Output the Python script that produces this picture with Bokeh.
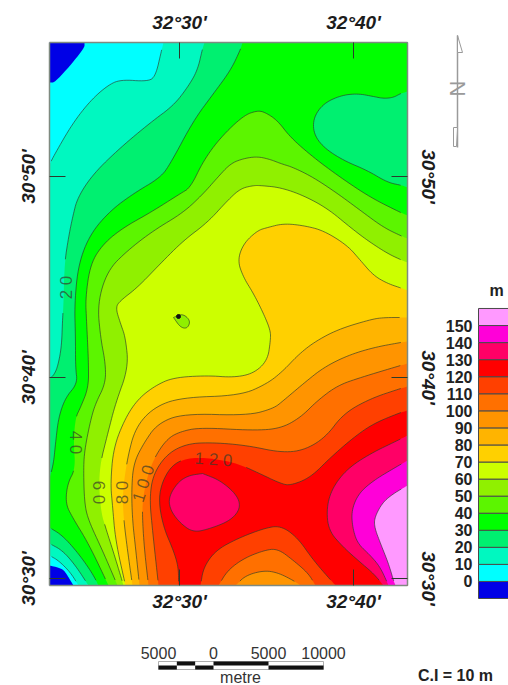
from bokeh.plotting import figure
from bokeh.models import LinearAxis, FixedTicker
from bokeh.core.properties import value
from bokeh.embed import file_html
from bokeh.resources import INLINE
import math

# ---- legend ----
LEVELS = [0, 10, 20, 30, 40, 50, 60, 70, 80, 90, 100, 110, 120, 130, 140, 150]
COLORS = ["#0000E6", "#00FFFF", "#00F8C0", "#00F070", "#00FF00", "#5CF500", "#90F000", "#CCFF00",
          "#FFD000", "#FFB400", "#FF9400", "#FF7000", "#FF4000", "#FF0000", "#FF0066", "#FF00D8", "#FF99FF"]
LON_TICKS = {179: "32°30'", 353: "32°40'"}
LAT_TICKS = {176: "30°50'", 377: "30°40'", 578: "30°30'"}
SCALE_M = [-5000, -3333, -1667, 0, 5000, 10000]
SCALE_LABELS = [(-5000, "5000"), (0, "0"), (5000, "5000"), (10000, "10000")]

L0_A = [(84, 42), (84, 48), (55, 82), (49, 82)]
L0_B = [(49, 565), (62, 568), (67, 575), (73, 585)]
L10_A = [(163, 42), (161, 50), (155, 76), (147, 81), (120, 79), (107, 85), (90, 100), (72, 123), (54, 154), (49, 164)]
L10_B = [(49, 555), (58, 560), (70, 572), (78, 585)]
L20_A = [(204, 42), (202, 48), (197, 70), (187, 87), (173, 105), (150, 122), (120, 147), (93, 173), (77, 197), (72, 217),
         (68, 237), (64, 263), (63, 303), (62, 320), (61, 347), (57, 367), (53, 375), (49, 378)]
L20_B = [(49, 543), (62, 550), (75, 565), (88, 585)]
L30_A = [(242, 42), (240, 49), (230, 70), (213, 93), (193, 120), (170, 163), (160, 177), (133, 193), (110, 210), (90, 233),
         (78, 263), (74, 303), (75, 337), (75, 367), (77, 383), (65, 397), (58, 417), (55, 443), (53, 463), (49, 478)]
L30_B = [(49, 527), (62, 535), (78, 553), (92, 573), (98, 585)]
L30_C = [(407, 187), (402, 185), (387, 182), (367, 170), (343, 160), (323, 147), (313, 133), (313, 117), (323, 103),
         (340, 95), (357, 93), (373, 96), (383, 98), (393, 97), (400, 93), (407, 91)]
L40_A = [(407, 215), (400, 212), (370, 197), (340, 177), (313, 157), (290, 137), (277, 120), (265, 112), (257, 110),
         (243, 115), (220, 137), (203, 160), (190, 187), (180, 193), (150, 212), (123, 227), (103, 243), (90, 263), (85, 297),
         (86, 320), (87, 340), (88, 363), (88, 387), (80, 407), (75, 417), (73, 442), (75, 468), (67, 483), (65, 503),
         (72, 517), (88, 543), (108, 585)]
L50_A = [(407, 238), (402, 236), (383, 227), (360, 210), (337, 193), (313, 177), (293, 167), (280, 163), (270, 159),
         (257, 156), (243, 158), (230, 163), (217, 177), (203, 193), (183, 212), (153, 230), (127, 250), (107, 270), (97, 303),
         (100, 337), (105, 363), (105, 383), (95, 403), (90, 420), (84, 450), (83, 470), (84, 503), (88, 520), (102, 550),
         (117, 585)]
L60_A = [(407, 262), (402, 260), (387, 253), (367, 240), (350, 227), (327, 208), (303, 195), (280, 187), (260, 185),
         (253, 185), (240, 188), (227, 200), (207, 222), (183, 240), (160, 263), (137, 287), (120, 300), (115, 307), (120, 323),
         (125, 337), (128, 367), (115, 403), (108, 430), (98, 470), (100, 510), (106, 530), (114, 555), (123, 585)]
L70_A = [(407, 290), (402, 288), (387, 283), (373, 275), (360, 260), (347, 245), (323, 230), (303, 225), (283, 223),
         (267, 227), (257, 230), (243, 243), (237, 260), (243, 277), (253, 293), (263, 313), (270, 330), (270, 340), (267, 360),
         (253, 373), (233, 377), (207, 375), (173, 377), (155, 385), (138, 398), (125, 417), (113, 447), (110, 483), (112, 505),
         (115, 540), (125, 585)]
L80_A = [(407, 317), (383, 317), (370, 319), (337, 329), (313, 342), (297, 355), (283, 370), (267, 383), (240, 395),
         (180, 397), (153, 407), (135, 427), (127, 457), (122, 492), (123, 517), (127, 550), (132, 585)]
L90_A = [(407, 341), (400, 342), (373, 347), (347, 355), (323, 367), (303, 383), (283, 400), (273, 408), (247, 415),
         (183, 413), (157, 423), (143, 443), (133, 463), (131, 490), (132, 520), (135, 547), (139, 585)]
L100_A = [(407, 363), (400, 365), (360, 377), (337, 385), (317, 400), (300, 417), (280, 428), (253, 430), (200, 427),
          (180, 431), (167, 438), (155, 455), (147, 475), (142, 500), (142, 520), (144, 550), (148, 585)]
L100_B = [(235, 585), (245, 575), (263, 570), (277, 572), (293, 580), (300, 585)]
L110_A = [(407, 386), (400, 388), (370, 398), (343, 413), (325, 437), (303, 450), (280, 452), (247, 445), (213, 442),
          (187, 443), (167, 453), (153, 473), (149, 497), (152, 530), (158, 585)]
L110_B = [(218, 585), (227, 570), (243, 558), (263, 550), (277, 548), (293, 560), (308, 573), (315, 585)]
L120_A = [(407, 410), (400, 412), (373, 423), (353, 437), (330, 457), (310, 477), (290, 485), (280, 483), (257, 472),
          (237, 463), (213, 458), (190, 457), (173, 463), (162, 480), (158, 500), (163, 527), (173, 550), (178, 567), (178, 585)]
L120_B = [(200, 585), (203, 567), (215, 550), (237, 538), (263, 528), (280, 525), (297, 537), (313, 560), (335, 585)]
L130_A = [(407, 435), (397, 440), (370, 453), (347, 468), (332, 487), (326, 507), (328, 530), (343, 547), (360, 562),
          (373, 573), (383, 585)]
L130_BLOB = [(202, 473), (220, 480), (237, 495), (240, 508), (230, 520), (210, 528), (193, 532), (180, 523), (170, 510),
             (168, 497), (177, 482), (188, 475), (202, 473)]
L140_A = [(407, 460), (393, 468), (373, 480), (358, 493), (351, 510), (352, 527), (357, 543), (370, 555), (380, 567), (388, 585)]
L150_A = [(407, 485), (393, 493), (382, 502), (374, 517), (374, 527), (380, 543), (388, 563), (393, 580), (395, 585)]
SPOT_50 = [(173, 317), (182, 313), (190, 320), (187, 328), (180, 327), (173, 317)]

SE = (407, 585)
NE = (407, 42)
# fill colour index, curves in path order, closing corners, whether the curves carry a contour line
REGIONS = [
    (1, [L0_A, L0_B], [SE, NE], False),
    (2, [L10_A, L10_B], [SE, NE], True),
    (3, [L20_A, L20_B], [SE, NE], True),
    (4, [L30_A, L30_B, [SE], L30_C], [NE], True),
    (5, [L40_A], [SE], True),
    (6, [L50_A], [SE], True),
    (7, [L60_A], [SE], True),
    (8, [L70_A], [SE], True),
    (9, [L80_A], [SE], True),
    (10, [L90_A], [SE], True),
    (11, [L100_A, L100_B], [SE], True),
    (12, [L110_A, L110_B], [SE], True),
    (13, [L120_A, L120_B], [SE], True),
    (14, [L130_A], [SE], True),
    (14, [L130_BLOB], [], True),
    (15, [L140_A], [SE], True),
    (16, [L150_A], [SE], True),
    (6, [SPOT_50], [], True),
]

# contour label: text, x, y, rotation (deg), half-gap in x, half-gap in y, trace it interrupts
CONTOUR_LABELS = [
    ("2 0", 66, 287, 90, 8, 25, L20_A),
    ("4 0", 75, 442, -90, 8, 26, L40_A),
    ("6 0", 98, 492, -90, 8, 30, L60_A),
    ("8 0", 122, 492, 90, 7, 25, L80_A),
    ("1 0 0", 143, 483, 72, 9, 26, L100_A),
    ("1 2 0", 213, 459, -4, 26, 8, L120_A),
]


def smooth(pts, n=3):
    """Round the corners of a traced line for drawing (Chaikin)."""
    if len(pts) < 3:
        return list(pts)
    for _ in range(n):
        out = [pts[0]]
        for a, b in zip(pts[:-1], pts[1:]):
            out.append((0.75 * a[0] + 0.25 * b[0], 0.75 * a[1] + 0.25 * b[1]))
            out.append((0.25 * a[0] + 0.75 * b[0], 0.25 * a[1] + 0.75 * b[1]))
        out.append(pts[-1])
        pts = out
    return pts


p = figure(width=508, height=685, x_range=(0, 508), y_range=(685, 0), min_border=0,
           output_backend="svg", toolbar_location=None, tools="")
p.outline_line_color = None
p.grid.visible = False
p.background_fill_color = "white"
p.border_fill_color = "white"

FONT = value("Liberation Sans")

# base band, then every "at least this level" region over it
p.patch([49, 407, 407, 49], [42, 42, 585, 585], fill_color=COLORS[0], line_color=None)
for color_i, curves, corners, _ in REGIONS:
    xs, ys = [], []
    for c in curves:
        s = smooth(c) if len(c) > 1 else c
        xs += [q[0] for q in s]
        ys += [q[1] for q in s]
    xs += [q[0] for q in corners]
    ys += [q[1] for q in corners]
    p.patch(xs, ys, fill_color=COLORS[color_i], line_color=None)

# contour lines, stopping short of the sheet edge and at their labels
for _, curves, _, draw in REGIONS:
    if not draw:
        continue
    for c in curves:
        if len(c) < 2:
            continue
        xs, ys = [], []
        for x, y in smooth(c):
            hide = x > 401 or x < 50.5 or y < 48 or y > 581
            for _t, lx, ly, _a, hw, hh, trace in CONTOUR_LABELS:
                if trace is c and abs(x - lx) < hw + 6 and abs(y - ly) < hh:
                    hide = True
            xs.append(float("nan") if hide else x)
            ys.append(float("nan") if hide else y)
        p.line(xs, ys, line_color="#2c3a2c", line_alpha=0.72, line_width=0.9)

p.scatter([178], [316], size=4, color="#101010")

for t, lx, ly, a, _hw, _hh, _c in CONTOUR_LABELS:
    p.text([lx], [ly], text=[t], angle=[math.radians(a)], text_font=FONT, text_font_size="17px",
           text_color="#3a3a2a", text_alpha=0.7, text_align="center", text_baseline="middle")


# frame and graticule ticks as real axes
def style(ax, ticks, fixed, standoff, bounds):
    ax.ticker = FixedTicker(ticks=list(ticks))
    ax.major_label_overrides = dict(ticks)
    ax.fixed_location = fixed
    ax.bounds = bounds
    ax.level = "overlay"
    ax.major_tick_in = 16
    ax.major_tick_out = 0
    ax.minor_tick_line_color = None
    ax.major_tick_line_color = "#2c3a2c"
    ax.major_tick_line_width = 1
    ax.axis_line_color = "#7f8a80"
    ax.axis_line_width = 1.5
    ax.major_label_standoff = standoff
    ax.major_label_text_font = "Liberation Sans"
    ax.major_label_text_font_style = "bold italic"
    ax.major_label_text_font_size = "19px"
    ax.major_label_text_color = "#1c1c1c"
    ax.major_label_orientation = "parallel"
    ax.axis_label = None


style(p.xaxis[0], LON_TICKS, 585, 5, (49, 407))
style(p.yaxis[0], LAT_TICKS, 49, 11, (42, 585))
top = LinearAxis()
right = LinearAxis()
p.add_layout(top, "above")
p.add_layout(right, "right")
style(top, LON_TICKS, 42, 10, (49, 407))
style(right, LAT_TICKS, 407, 10, (42, 585))

# legend colour bar
band_h = 17.06
bar_bottom = 598
tops = [bar_bottom - band_h * (i + 1) for i in range(len(COLORS))]
bottoms = [bar_bottom - band_h * i for i in range(len(COLORS))]
p.quad(left=478, right=509, top=tops, bottom=bottoms, fill_color=COLORS, line_color="#4a4a4a", line_width=1)
p.text([472] * len(LEVELS), [bar_bottom - band_h * (i + 1) for i in range(len(LEVELS))],
       text=[str(v) for v in LEVELS], text_font=FONT, text_font_size="16px", text_font_style="bold",
       text_color="#222222", text_align="right", text_baseline="middle")
p.text([496], [290], text=["m"], text_font=FONT, text_font_size="16px", text_font_style="bold",
       text_color="#222222", text_align="center", text_baseline="middle")

# north arrow
GREY = "#9a9a9a"
p.line([457, 457], [35, 147], line_color=GREY, line_width=1.5)
p.patch([457, 462, 457], [35, 52, 52], fill_color="white", line_color=GREY, line_width=1)
p.patch([453, 457, 456, 453], [127, 127, 146, 146], fill_color="white", line_color=GREY, line_width=1)
p.text([457], [88], text=["N"], angle=[math.radians(90)], text_font=FONT, text_font_size="22px",
       text_color=GREY, text_align="center", text_baseline="middle")

# scale bar
metres_per_unit = 5000 / 55
sx = [213 + m / metres_per_unit for m in SCALE_M]
p.quad(left=sx[0], right=sx[-1], top=661, bottom=669, fill_color="white", line_color="#999999", line_width=0.8)
for i, (a, b) in enumerate(zip(sx[:-1], sx[1:])):
    upper = i % 2 == 1
    p.quad(left=a, right=b, top=661 if upper else 665, bottom=665 if upper else 669, fill_color="#111111", line_color=None)
for m, t in SCALE_LABELS:
    p.text([213 + m / metres_per_unit], [652], text=[t], text_font=FONT, text_font_size="16px",
           text_color="#333333", text_align="center", text_baseline="middle")
p.text([240], [677], text=["metre"], text_font=FONT, text_font_size="16px", text_color="#333333",
       text_align="center", text_baseline="middle")
p.text([455], [675], text=["C.I = 10 m"], text_font=FONT, text_font_size="16px", text_font_style="bold",
       text_color="#222222", text_align="center", text_baseline="middle")

open("out.html", "w").write(file_html(p, INLINE))
